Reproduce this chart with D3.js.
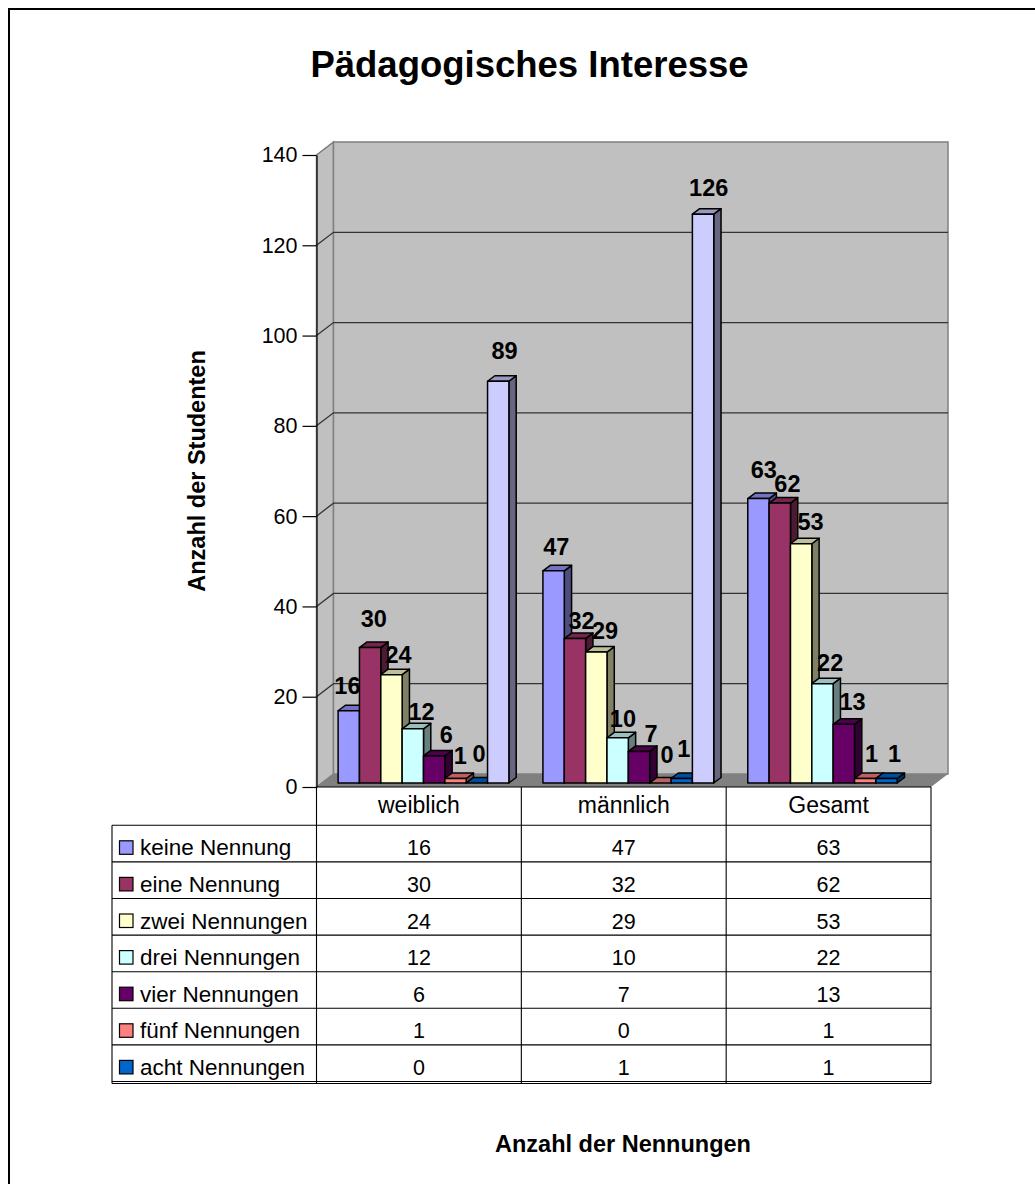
<!DOCTYPE html>
<html>
<head>
    <title>Pädagogisches Interesse</title>
    <script src="https://d3js.org/d3.v7.min.js"></script>
    <style>
        body { margin: 0; background: #fff; }
        text { font-family: "Liberation Sans", Arial, sans-serif; fill: #000; }
    </style>
</head>
<body>
    <div id="svg_container"></div>

    <script>
        // Chart values
        const categories = ["weiblich", "männlich", "Gesamt"];
        const seriesNames = ["keine Nennung", "eine Nennung", "zwei Nennungen", "drei Nennungen",
                             "vier Nennungen", "fünf Nennungen", "acht Nennungen"];
        const keineNennung = [16, 47, 63];
        const eineNennung = [30, 32, 62];
        const zweiNennungen = [24, 29, 53];
        const dreiNennungen = [12, 10, 22];
        const vierNennungen = [6, 7, 13];
        const fuenfNennungen = [1, 0, 1];
        const achtNennungen = [0, 1, 1];
        // extra bar per group, has no row in the table and nothing for Gesamt
        const summe = [89, 126, null];
        const yTicks = [0, 20, 40, 60, 80, 100, 120, 140];

        const seriesValues = [keineNennung, eineNennung, zweiNennungen, dreiNennungen,
                              vierNennungen, fuenfNennungen, achtNennungen, summe];
        const seriesColors = ["#9999ff", "#993366", "#ffffcc", "#ccffff",
                              "#660066", "#ff8080", "#0066cc", "#ccccff"];

        // hand placed value labels, offset per series (rows) and group (columns)
        const labelNudgeX = [[-5, -1, 1.7], [0, 3, 4], [3.5, 5, 5.7], [5, 1.6, 4],
                             [8.5, 8.5, 5], [1, 3, 2.6], [-1.5, -1.5, 4.3], [2.6, 2, 0]];
        const labelNudgeY = [[-3, -2, -6.6], [-7, 4.6, 3.3], [2, 0.5, 0.7], [5, 3, 1],
                             [1, 5, 0], [0, -5.7, -2], [-7, -7, -2], [-8.6, -4.7, 0]];

        const width = 1035;
        const height = 1184;

        // front edge of the plot box and the offset to the back wall
        const plotLeft = 316.5;
        const plotRight = 931;
        const plotTop = 155;
        const plotBottom = 787;
        const wallDx = 17;
        const wallDy = 13;

        // depth of one bar and where the bar fronts stand on the floor
        const barDx = 7.3;
        const barDy = 5.5;
        const barFloor = 783;

        const svg = d3.select("#svg_container")
            .append("svg")
            .attr("width", width)
            .attr("height", height);

        // outer frame, runs off the right and bottom edge
        svg.append("path")
            .attr("d", `M 9 ${height} L 9 9 L ${width} 9`)
            .attr("fill", "none")
            .attr("stroke", "#000")
            .attr("stroke-width", 2);

        const yFront = d3.scaleLinear().domain([0, 140]).range([plotBottom, plotTop]);
        const yBar = d3.scaleLinear().domain([0, 140]).range([barFloor, barFloor - (plotBottom - plotTop)]);
        const xGroup = d3.scaleBand().domain(categories).range([plotLeft, plotRight]);
        const xBar = d3.scaleBand().domain(d3.range(seriesValues.length)).range([21.6, 192.4]);

        // walls and floor
        svg.append("polygon")
            .attr("points", [[plotLeft, plotBottom], [plotRight, plotBottom],
                             [plotRight + wallDx, plotBottom - wallDy], [plotLeft + wallDx, plotBottom - wallDy]].join(" "))
            .attr("fill", "#808080");
        svg.append("polygon")
            .attr("points", [[plotLeft, plotTop], [plotLeft + wallDx, plotTop - wallDy],
                             [plotLeft + wallDx, plotBottom - wallDy], [plotLeft, plotBottom]].join(" "))
            .attr("fill", "#c0c0c0")
            .attr("stroke", "#808080")
            .attr("stroke-width", 1.5);
        svg.append("rect")
            .attr("x", plotLeft + wallDx)
            .attr("y", plotTop - wallDy)
            .attr("width", plotRight - plotLeft)
            .attr("height", plotBottom - plotTop)
            .attr("fill", "#c0c0c0")
            .attr("stroke", "#808080")
            .attr("stroke-width", 1.5);

        // gridlines on the back wall plus the short diagonal on the side wall
        const grid = svg.append("g");
        yTicks.filter(t => t > 0 && t < 140).forEach(t => {
            grid.append("path")
                .attr("d", `M ${plotLeft} ${yFront(t)} L ${plotLeft + wallDx} ${yFront(t) - wallDy} L ${plotRight + wallDx} ${yFront(t) - wallDy}`)
                .attr("fill", "none")
                .attr("stroke", "#333")
                .attr("stroke-width", 1.3);
        });
        grid.append("line")
            .attr("x1", plotLeft).attr("y1", plotTop)
            .attr("x2", plotLeft + wallDx).attr("y2", plotTop - wallDy)
            .attr("stroke", "#808080");
        grid.append("line")
            .attr("x1", plotLeft).attr("y1", plotBottom)
            .attr("x2", plotLeft + wallDx).attr("y2", plotBottom - wallDy)
            .attr("stroke", "#808080");

        // y axis on the front edge
        const yAxis = svg.append("g")
            .attr("transform", `translate(${plotLeft},0)`)
            .call(d3.axisLeft(yFront).tickValues(yTicks).tickSize(14).tickPadding(5).tickSizeOuter(0));
        yAxis.selectAll("text")
            .style("font-family", '"Liberation Sans", Arial, sans-serif')
            .style("font-size", "21.5px");
        yAxis.selectAll("line, path").attr("stroke", "#000").attr("stroke-width", 1.2);

        // bars are drawn left to right so the next front covers the last side face
        const bars = svg.append("g");
        categories.forEach((cat, c) => {
            seriesValues.forEach((vals, s) => {
                const v = vals[c];
                if (v === null) return;
                const x0 = xGroup(cat) + xBar(s);
                const x1 = x0 + xBar.bandwidth();
                const top = yBar(v);
                const color = d3.color(seriesColors[s]);
                const g = bars.append("g")
                    .attr("stroke", "#000")
                    .attr("stroke-width", 1.5)
                    .attr("stroke-linejoin", "round");
                g.append("polygon")
                    .attr("points", [[x1, top], [x1 + barDx, top - barDy], [x1 + barDx, barFloor - barDy], [x1, barFloor]].join(" "))
                    .attr("fill", d3.rgb(color.r * 0.5, color.g * 0.5, color.b * 0.5));
                g.append("polygon")
                    .attr("points", [[x0, top], [x0 + barDx, top - barDy], [x1 + barDx, top - barDy], [x1, top]].join(" "))
                    .attr("fill", d3.rgb(color.r * 0.75, color.g * 0.75, color.b * 0.75));
                g.append("rect")
                    .attr("x", x0)
                    .attr("y", top)
                    .attr("width", xBar.bandwidth())
                    .attr("height", barFloor - top)
                    .attr("fill", color);
            });
        });

        // value labels on top of everything
        const labels = svg.append("g")
            .attr("font-size", "23.5px")
            .attr("font-weight", "bold")
            .attr("text-anchor", "middle");
        categories.forEach((cat, c) => {
            seriesValues.forEach((vals, s) => {
                const v = vals[c];
                if (v === null) return;
                labels.append("text")
                    .attr("x", xGroup(cat) + xBar(s) + xBar.bandwidth() / 2 + barDx / 2 + labelNudgeX[s][c])
                    .attr("y", yBar(v) - 14 + labelNudgeY[s][c])
                    .text(v);
            });
        });

        // data table under the plot
        const tableLeft = 112;
        const tableTop = 825.3;
        const rowHeight = 36.6;
        const tableBottom = tableTop + rowHeight * seriesNames.length;
        const table = svg.append("g")
            .attr("stroke", "#000")
            .attr("stroke-width", 1.1);

        table.append("line")
            .attr("x1", tableLeft).attr("x2", tableLeft)
            .attr("y1", tableTop).attr("y2", tableBottom + 2);
        d3.range(seriesNames.length + 1).forEach(i => {
            table.append("line")
                .attr("x1", tableLeft).attr("x2", plotRight)
                .attr("y1", tableTop + i * rowHeight).attr("y2", tableTop + i * rowHeight);
        });
        table.append("line")
            .attr("x1", tableLeft).attr("x2", plotRight)
            .attr("y1", tableBottom + 2).attr("y2", tableBottom + 2);
        [plotLeft].concat(categories.map(c => xGroup(c) + xGroup.bandwidth())).forEach(x => {
            table.append("line")
                .attr("x1", x).attr("x2", x)
                .attr("y1", plotBottom).attr("y2", tableBottom + 2);
        });
        table.append("line")
            .attr("x1", plotLeft).attr("x2", plotRight)
            .attr("y1", plotBottom).attr("y2", plotBottom);

        const tableText = svg.append("g").attr("font-size", "21.5px");
        categories.forEach((cat, c) => {
            tableText.append("text")
                .attr("x", xGroup(cat) + xGroup.bandwidth() / 2)
                .attr("y", plotBottom + 26)
                .attr("text-anchor", "middle")
                .attr("font-size", "23px")
                .text(cat);
        });
        seriesNames.forEach((name, s) => {
            const rowY = tableTop + s * rowHeight;
            svg.append("rect")
                .attr("x", 119.5)
                .attr("y", rowY + 15.5)
                .attr("width", 13.5)
                .attr("height", 13.5)
                .attr("fill", seriesColors[s])
                .attr("stroke", "#000")
                .attr("stroke-width", 1.2);
            tableText.append("text")
                .attr("x", 140)
                .attr("y", rowY + 30)
                .attr("font-size", "22.5px")
                .text(name);
            categories.forEach((cat, c) => {
                tableText.append("text")
                    .attr("x", xGroup(cat) + xGroup.bandwidth() / 2)
                    .attr("y", rowY + 30)
                    .attr("text-anchor", "middle")
                    .text(seriesValues[s][c]);
            });
        });

        // titles
        svg.append("text")
            .attr("x", 529.5)
            .attr("y", 77)
            .attr("text-anchor", "middle")
            .attr("font-size", "36.5px")
            .attr("font-weight", "bold")
            .text("Pädagogisches Interesse");
        svg.append("text")
            .attr("transform", "translate(205,471) rotate(-90)")
            .attr("text-anchor", "middle")
            .attr("font-size", "23.5px")
            .attr("font-weight", "bold")
            .text("Anzahl der Studenten");
        svg.append("text")
            .attr("x", 623)
            .attr("y", 1152)
            .attr("text-anchor", "middle")
            .attr("font-size", "23.5px")
            .attr("font-weight", "bold")
            .text("Anzahl der Nennungen");
    </script>
</body>
</html>
